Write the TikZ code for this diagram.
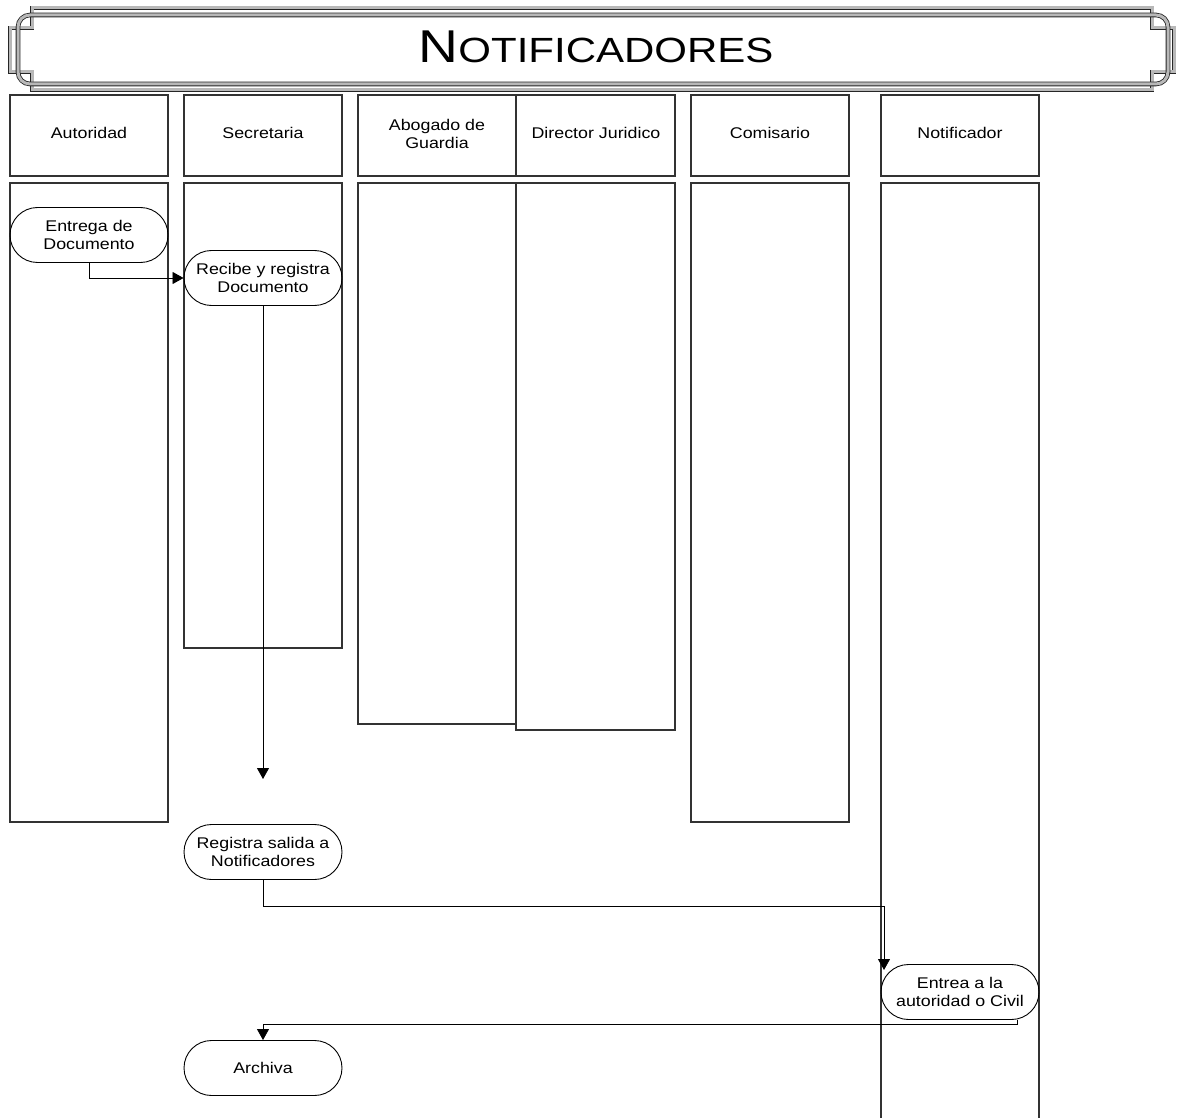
\documentclass[tikz,border=0pt]{standalone}
\usepackage{fontspec}
\setmainfont[FakeStretch=1.15]{Liberation Sans}
\usetikzlibrary{arrows.meta,shapes.misc}
\begin{document}
\begin{tikzpicture}[x=1pt,y=-1pt,
  band/.style={draw=black!85,line width=0.8pt,double=black!28,double distance=3pt},
  lane/.style={draw=black!80,line width=1.2pt},
  hdr/.style={font=\fontsize{15.5}{18}\selectfont,align=center},
  act/.style={draw,line width=0.9pt,rounded rectangle,minimum width=158pt,minimum height=55pt,
     inner sep=0pt,align=center,font=\fontsize{15.5}{17.5}\selectfont},
  flow/.style={draw,line width=0.8pt,-{Triangle[length=11pt,width=12pt]}}]
\useasboundingbox (0,0) rectangle (1179,1118);
% title banner
\draw[band] (32,8) -- (1152,8) -- (1152,28) -- (1174,28) -- (1174,72) -- (1152,72) -- (1152,90)
  -- (32,90) -- (32,72) -- (10,72) -- (10,28) -- (32,28) -- cycle;
\draw[band,rounded corners=12pt] (18,15) rectangle (1168,84);
\node[inner sep=0pt,anchor=base] (title) at (596,63)
  {\addfontfeature{FakeStretch=1.2}\fontsize{46}{46}\selectfont N\fontsize{35}{35}\selectfont OTIFICADORES};
% lanes: headers and bodies
\draw[lane] (10,95) rectangle (168,176);
\draw[lane] (10,183) rectangle (168,822);
\draw[lane] (184,95) rectangle (342,176);
\draw[lane] (184,183) rectangle (342,648);
\draw[lane] (358,95) rectangle (516,176);
\draw[lane] (358,183) rectangle (516,724);
\draw[lane] (516,95) rectangle (675,176);
\draw[lane] (516,183) rectangle (675,730);
\draw[lane] (691,95) rectangle (849,176);
\draw[lane] (691,183) rectangle (849,822);
\draw[lane] (881,95) rectangle (1039,176);
\draw[lane] (881,1120) -- (881,183) -- (1039,183) -- (1039,1120);
\node[hdr] (h1) at (89,133) {Autoridad};
\node[hdr] (h2) at (263,133) {Secretaria};
\node[hdr] (h3) at (437,134) {Abogado de\\Guardia};
\node[hdr] (h4) at (596,133) {Director Juridico};
\node[hdr] (h5) at (770,133) {Comisario};
\node[hdr] (h6) at (960,133) {Notificador};
% activities
\node[act] (a1) at (89,235) {Entrega de\\Documento};
\node[act] (a2) at (263,278) {Recibe y registra\\Documento};
\node[act] (a3) at (263,852) {Registra salida a\\Notificadores};
\node[act] (a4) at (960,992) {Entrea a la\\autoridad o Civil};
\node[act] (a5) at (263,1068) {Archiva};
\coordinate (e2) at (263,779);
\coordinate (k3) at (884,970);
\coordinate (k4) at (1017,0);
% connectors
\draw[flow] (a1.south) |- (a2.west);
\draw[flow] (a2.south) -- (e2);
\draw[flow] (a3.south) -- ++(0,26) -| (k3);
\draw[flow] (a4.south -| k4) -- ++(0,4) -| (a5.north);
\end{tikzpicture}
\end{document}
